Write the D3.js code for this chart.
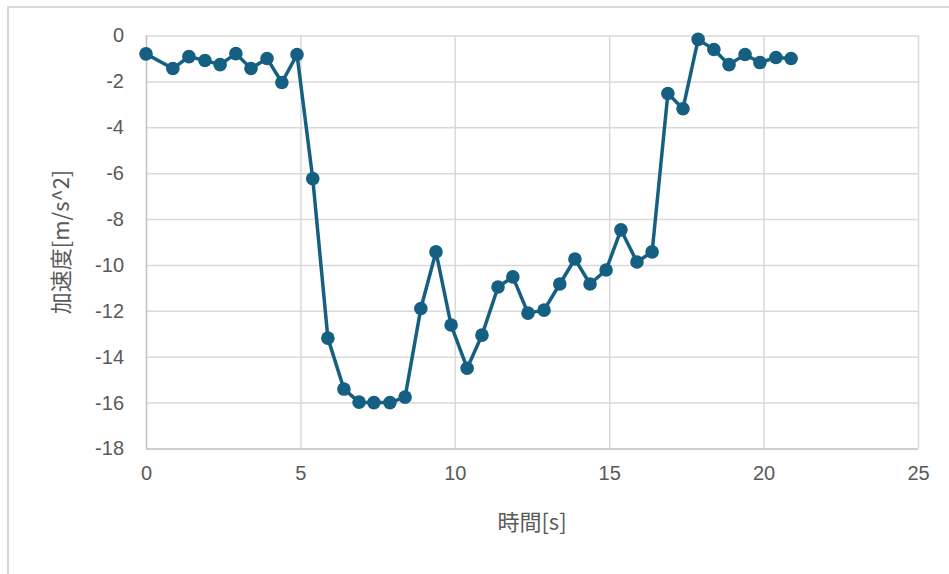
<!DOCTYPE html>
<html>
<head>
<meta charset="utf-8">
<script src="https://cdn.jsdelivr.net/npm/d3@7/dist/d3.min.js"></script>
<style>
  html, body { margin: 0; padding: 0; background: #ffffff; }
  svg { display: block; }
</style>
</head>
<body>
<script>
// Elapsed time [s]
const times = [0, 0.87, 1.39, 1.91, 2.4, 2.91, 3.4, 3.92, 4.4, 4.89,
  5.4, 5.89, 6.41, 6.9, 7.38, 7.9, 8.39, 8.9, 9.39, 9.88,
  10.4, 10.88, 11.4, 11.88, 12.37, 12.89, 13.4, 13.89, 14.38, 14.9,
  15.38, 15.9, 16.39, 16.9, 17.39, 17.88, 18.39, 18.88, 19.4, 19.88,
  20.4, 20.89];
// Measured acceleration [m/s^2]
const accel = [-0.8, -1.44, -0.92, -1.09, -1.27, -0.79, -1.44, -1.0, -2.05, -0.83,
  -6.24, -13.19, -15.41, -15.98, -16.0, -16.0, -15.76, -11.9, -9.43, -12.62,
  -14.5, -13.06, -10.96, -10.52, -12.1, -11.97, -10.83, -9.74, -10.83, -10.22,
  -8.47, -9.87, -9.43, -2.53, -3.19, -0.17, -0.61, -1.27, -0.83, -1.18,
  -0.96, -1.0];
const xTicks = [0, 5, 10, 15, 20, 25];
const yTicks = [0, -2, -4, -6, -8, -10, -12, -14, -16, -18];
const xTitle = "時間[s]";
const yTitle = "加速度[m/s^2]";

const W = 949, H = 574;
const plot = { left: 146, right: 918, top: 35.5, bottom: 448.5 };
const lineColor = "#156082";
const textColor = "#595959";
const latinFont = "'Liberation Sans', Arial, sans-serif";
const cjkFont = "'Noto Sans CJK JP', 'Noto Sans CJK SC', sans-serif";

const svg = d3.select("body").append("svg")
  .attr("width", W).attr("height", H);

// chart frame
svg.append("rect")
  .attr("x", 8).attr("y", 7)
  .attr("width", W + 10).attr("height", H + 10)
  .attr("fill", "#ffffff")
  .attr("stroke", "#d9d9d9").attr("stroke-width", 2);

const x = d3.scaleLinear().domain([0, 25]).range([plot.left, plot.right]);
const y = d3.scaleLinear().domain([-18, 0]).range([plot.bottom, plot.top]);

// horizontal gridlines + y tick labels
const yAxis = d3.axisLeft(y).tickValues(yTicks)
  .tickSize(-(plot.right - plot.left)).tickPadding(22)
  .tickFormat(d3.format("d"));
const gy = svg.append("g")
  .attr("transform", `translate(${plot.left},0)`)
  .call(yAxis);
gy.select(".domain").remove();
gy.selectAll(".tick line")
  .attr("stroke", d => d === -18 ? "#bfbfbf" : "#d9d9d9")
  .attr("stroke-width", 1.5);
gy.selectAll(".tick text")
  .attr("fill", textColor)
  .style("font-family", latinFont)
  .style("font-size", "20px")
  .text(d => d3.format("d")(d).replace("−", "-"));

// vertical gridlines + x tick labels
const xAxis = d3.axisBottom(x).tickValues(xTicks)
  .tickSize(-(plot.bottom - plot.top)).tickPadding(17)
  .tickFormat(d3.format("d"));
const gx = svg.append("g")
  .attr("transform", `translate(0,${plot.bottom})`)
  .call(xAxis);
gx.select(".domain").remove();
gx.selectAll(".tick line")
  .attr("stroke", d => d === 0 ? "#bfbfbf" : "#d9d9d9")
  .attr("stroke-width", 1.5);
gx.selectAll(".tick text")
  .attr("fill", textColor)
  .style("font-family", latinFont)
  .style("font-size", "20px");

// axis titles
svg.append("text")
  .attr("x", (plot.left + plot.right) / 2)
  .attr("y", 530)
  .attr("text-anchor", "middle")
  .attr("fill", textColor)
  .style("font-family", cjkFont)
  .style("font-size", "22px")
  .text(xTitle);

svg.append("text")
  .attr("transform", `translate(69,${(plot.top + plot.bottom) / 2}) rotate(-90)`)
  .attr("text-anchor", "middle")
  .attr("fill", textColor)
  .style("font-family", cjkFont)
  .style("font-size", "22px")
  .text(yTitle);

// series
const pts = times.map((t, i) => [t, accel[i]]);
svg.append("path")
  .datum(pts)
  .attr("fill", "none")
  .attr("stroke", lineColor)
  .attr("stroke-width", 3.5)
  .attr("stroke-linejoin", "round")
  .attr("d", d3.line().x(d => x(d[0])).y(d => y(d[1])));

svg.append("g").selectAll("circle")
  .data(pts)
  .join("circle")
  .attr("cx", d => x(d[0]))
  .attr("cy", d => y(d[1]))
  .attr("r", 6.8)
  .attr("fill", lineColor);
</script>
</body>
</html>
